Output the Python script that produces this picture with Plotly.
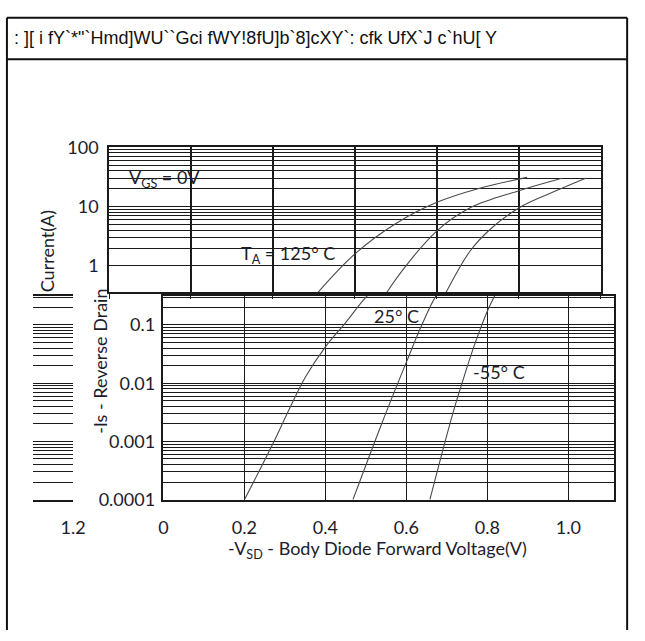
import plotly.graph_objects as go

W, H = 645, 641

# ---------------- data ----------------
x_125 = [0.20, 0.27, 0.31, 0.35, 0.40, 0.45, 0.50, 0.60, 0.70, 0.80, 0.90, 1.02]
i_125 = [1e-4, 9e-4, 3.5e-3, 1.25e-2, 4.2e-2, 0.11, 0.30, 1.6, 5.2, 11.8, 20.0, 31.0]

x_25 = [0.468, 0.54, 0.60, 0.64, 0.68, 0.80, 0.88, 1.00, 1.105]
i_25 = [1e-4, 2.1e-3, 2.3e-2, 0.107, 0.38, 3.9, 9.5, 18.5, 30.0]

x_m55 = [0.658, 0.713, 0.737, 0.768, 0.802, 0.825, 0.88, 0.93, 1.00, 1.075, 1.163]
i_m55 = [1e-4, 2.75e-3, 9.8e-3, 4.5e-2, 0.186, 0.39, 1.75, 4.15, 9.5, 16.6, 30.0]

x_ticks_bottom = [0, 0.2, 0.4, 0.6, 0.8, 1.0]
x_ticklabels_bottom = ["0", "0.2", "0.4", "0.6", "0.8", "1.0"]
x_ticks_top = [0, 0.2, 0.4, 0.6, 0.8, 1.0, 1.2]
frag_ticks = [1.2]
frag_ticklabels = ["1.2"]

top_decades = [1, 10, 100]
top_labels = ["1", "10", "100"]
bottom_decades = [0.0001, 0.001, 0.01, 0.1]
bottom_labels = ["0.0001", "0.001", "0.01", "0.1"]

title_text = ': ][ i fY`*"`Hmd]WU``Gci fWY!8fU]b`8]cXY`: cfk UfX`J c`hU[ Y'


def log_grid(decades):
    return [d * m for d in decades for m in range(1, 10)]


def px(x):
    return x / W


def py(y):
    return 1 - y / H


INK = "#1c1c2a"
GRID = "#1a1a1a"
CURVE = "#4a4a4a"
FONT = "Lato"

fig = go.Figure()

series = [(x_125, i_125), (x_25, i_25), (x_m55, i_m55)]
for xa, ya in [("x", "y"), ("x2", "y2")]:
    for xs, ys in series:
        fig.add_trace(go.Scatter(
            x=xs, y=ys, mode="lines", xaxis=xa, yaxis=ya,
            line=dict(color=CURVE, width=1.1, shape="spline", smoothing=1.0),
            showlegend=False, hoverinfo="skip", cliponaxis=True))

fig.add_trace(go.Scatter(x=[1.15], y=[0.01], mode="markers", xaxis="x3", yaxis="y3",
                         marker=dict(opacity=0), showlegend=False, hoverinfo="skip"))

tickfont = dict(family=FONT, size=18, color=INK)
minor_top = dict(tickvals=log_grid(top_decades), showgrid=True, gridcolor=GRID,
                 gridwidth=1, ticks="")
minor_bot = dict(tickvals=log_grid(bottom_decades), showgrid=True, gridcolor=GRID,
                 gridwidth=1, ticks="")

fig.update_layout(
    width=W, height=H, margin=dict(l=0, r=0, t=0, b=0),
    paper_bgcolor="white", plot_bgcolor="white",
    xaxis=dict(domain=[px(107), px(613)], range=[0, 1.2], anchor="y",
               tickvals=x_ticks_top, showticklabels=False, showgrid=True,
               gridcolor=GRID, gridwidth=1.6, ticks="outside", ticklen=5,
               tickcolor=GRID, showline=True, mirror=True, linecolor=GRID,
               linewidth=1.5, zeroline=False),
    yaxis=dict(domain=[py(290), py(140)], type="log", range=[-0.439, 2], anchor="x",
               tickvals=top_decades, ticktext=top_labels, tickfont=tickfont,
               showgrid=True, gridcolor=GRID, gridwidth=1.2, minor=minor_top,
               showline=True, mirror=True, linecolor=GRID, linewidth=1.5,
               ticks="", zeroline=False, ticklabelstandoff=5),
    xaxis2=dict(domain=[px(163), px(626)], range=[0, 1.1116], anchor="y2",
                tickvals=x_ticks_bottom, ticktext=x_ticklabels_bottom,
                tickfont=tickfont, showgrid=True, gridcolor=GRID, gridwidth=1.4,
                showline=True, mirror=True, linecolor=GRID, linewidth=1.5,
                ticks="", zeroline=False, ticklabelstandoff=11),
    yaxis2=dict(domain=[py(505), py(294)], type="log", range=[-4, -0.5008], anchor="x2",
                tickvals=bottom_decades, ticktext=bottom_labels, tickfont=tickfont,
                showgrid=True, gridcolor=GRID, gridwidth=1.2, minor=minor_bot,
                showline=True, mirror=True, linecolor=GRID, linewidth=1.5,
                ticks="", zeroline=False, ticklabelstandoff=3),
    xaxis3=dict(domain=[px(29), px(70)], range=[1.104, 1.2], anchor="y3",
                tickvals=frag_ticks, ticktext=frag_ticklabels, tickfont=tickfont,
                showgrid=True, gridcolor=GRID, gridwidth=1.4, showline=True,
                mirror=True, linecolor=GRID, linewidth=1.5, ticks="",
                zeroline=False, ticklabelstandoff=11),
    yaxis3=dict(domain=[py(505), py(294)], type="log", range=[-4, -0.5008], anchor="x3",
                tickvals=bottom_decades, showticklabels=False, showgrid=True,
                gridcolor=GRID, gridwidth=1.2, minor=minor_bot, showline=False,
                ticks="", zeroline=False),
)

ann_font = dict(family=FONT, size=18, color=INK)
annotations = [
    dict(text=title_text, x=px(7), y=py(27), xanchor="left", yanchor="middle",
         font=dict(family="Liberation Sans Narrow, Liberation Sans", size=18, color="#111")),
    dict(text="-V<sub>SD</sub> - Body Diode Forward Voltage(V)", x=px(383), y=py(557),
         xanchor="center", yanchor="middle", font=ann_font),
    dict(text="Current(A)", x=px(44), y=py(248), textangle=-90,
         xanchor="center", yanchor="middle", font=ann_font),
    dict(text="-Is - Reverse Drain", x=px(97), y=py(362), textangle=-90,
         xanchor="center", yanchor="middle", font=ann_font),
    dict(text="V<sub>GS</sub> = 0V", x=px(125), y=py(172), xanchor="left",
         yanchor="middle", font=ann_font),
    dict(text="T<sub>A</sub> = 125° C", x=px(241), y=py(251), xanchor="left",
         yanchor="middle", font=ann_font),
    dict(text="25° C", x=px(378), y=py(315), xanchor="left", yanchor="middle",
         font=ann_font),
    dict(text="-55° C", x=px(479), y=py(373), xanchor="left", yanchor="middle",
         font=ann_font),
]
for a in annotations:
    a.update(xref="paper", yref="paper", showarrow=False)
fig.update_layout(annotations=annotations)

frame = dict(color="#111", width=2)
shapes = [
    dict(type="line", x0=px(2), x1=px(640), y0=py(6), y1=py(6), line=frame),
    dict(type="line", x0=px(2), x1=px(640), y0=py(49), y1=py(49), line=frame),
    dict(type="line", x0=px(2), x1=px(2), y0=py(6), y1=py(640), line=frame),
    dict(type="line", x0=px(640), x1=px(640), y0=py(6), y1=py(640), line=frame),
]
for s in shapes:
    s.update(xref="paper", yref="paper")
fig.update_layout(shapes=shapes)

post = (
    "var css='margin:0;padding:0;overflow:hidden;width:645px;height:641px;';"
    "document.documentElement.style.cssText=css;"
    "document.body.style.cssText=css;"
    "var d=document.getElementById('{plot_id}');"
    "d.style.position='absolute';d.style.left='0px';d.style.top='0px';"
    "d.style.overflow='hidden';"
    "document.querySelectorAll('.svg-container, .main-svg').forEach(function(e){e.style.overflow='hidden';});"
)
fig.write_html("out.html", post_script=post, config={"displayModeBar": False})
